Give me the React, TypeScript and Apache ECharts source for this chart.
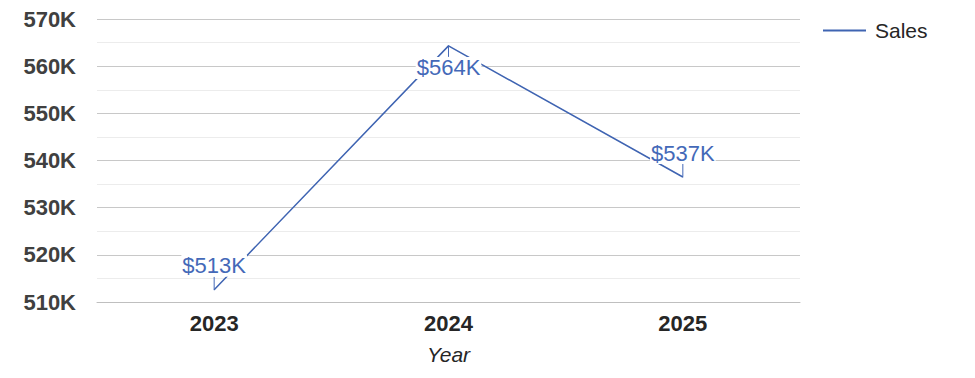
import React, { useEffect, useRef } from "react";
import * as echarts from "echarts";

const years = ["2023", "2024", "2025"];
const sales = [512600, 564300, 536500];
const labelOffsets = [-24, 22, -24];
const yMin = 510000;
const yMax = 570000;
const yStep = 10000;

export default function App() {
  const ref = useRef<HTMLDivElement>(null);
  useEffect(() => {
    if (!ref.current) return;
    const chart = echarts.init(ref.current, null, { renderer: "svg" });
    const blue = "#3f64b2";
    const labelBlue = "#4469b8";
    chart.setOption({
      animation: false,
      textStyle: { fontFamily: "Liberation Sans, Arial, sans-serif" },
      grid: {
        left: 89,
        right: 167,
        top: 11,
        bottom: 68,
        containLabel: false,
        outerBoundsMode: "none",
      },
      legend: {
        data: [{ name: "Sales", icon: "rect" }],
        left: 810,
        top: 7,
        itemWidth: 43,
        itemHeight: 2,
        itemGap: 10,
        textStyle: { fontSize: 21, color: "#262626", padding: [0, 0, 0, 4] },
      },
      xAxis: {
        type: "category",
        data: years,
        name: "Year",
        nameLocation: "middle",
        nameGap: 42,
        nameTextStyle: { fontSize: 21, fontStyle: "italic", color: "#262626" },
        axisLine: { show: true, lineStyle: { color: "#bfbfbf" } },
        axisTick: { show: false },
        axisLabel: { fontSize: 22, fontWeight: "bold", color: "#262626", margin: 10 },
      },
      yAxis: {
        type: "value",
        min: yMin,
        max: yMax,
        interval: yStep,
        axisLine: { show: false },
        axisTick: { show: false },
        axisLabel: {
          fontSize: 22,
          fontWeight: "bold",
          color: "#404040",
          margin: 21,
          formatter: (v: number) => v / 1000 + "K",
        },
        splitLine: { show: true, lineStyle: { color: "#c8c8c8" } },
        minorTick: { show: false, splitNumber: 2 },
        minorSplitLine: { show: true, lineStyle: { color: "#ececec" } },
      },
      series: [
        {
          name: "Sales",
          type: "line",
          data: sales,
          symbol: "circle",
          symbolSize: 1,
          showSymbol: true,
          lineStyle: { color: blue, width: 1.5 },
          itemStyle: { color: blue },
          label: {
            show: true,
            position: "inside",
            fontSize: 22,
            color: labelBlue,
            backgroundColor: "#fff",
            padding: [0, 1],
            formatter: (p: any) => "$" + Math.round(p.value / 1000) + "K",
          },
          labelLine: { show: true, lineStyle: { color: labelBlue, width: 1 } },
          labelLayout: (p: any) => ({ dy: labelOffsets[p.dataIndex] }),
        },
      ],
    });
    return () => chart.dispose();
  }, []);
  return <div ref={ref} style={{ width: 959, height: 362 }} />;
}
